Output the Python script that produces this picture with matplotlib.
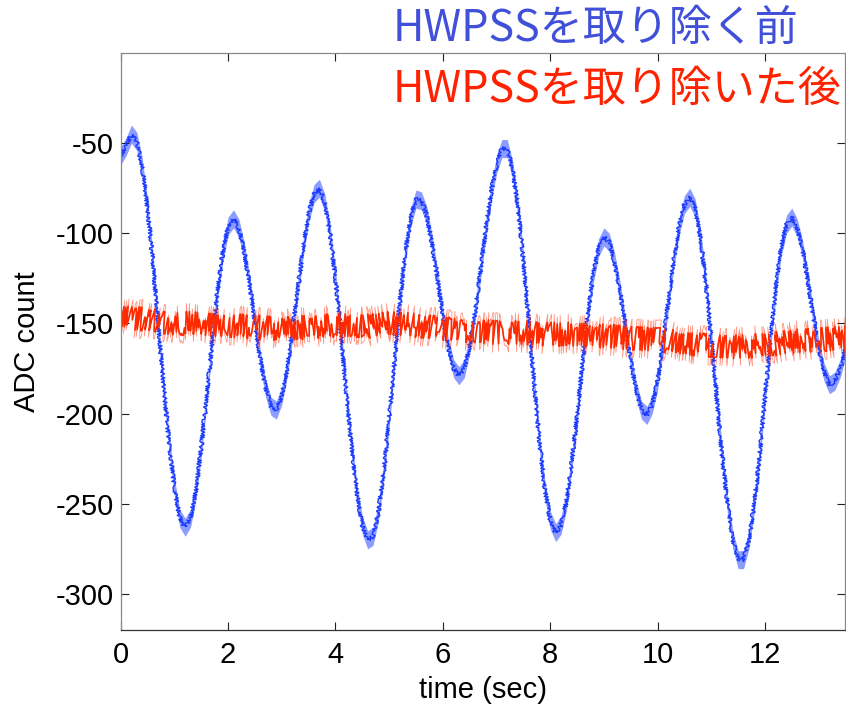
import numpy as np
import matplotlib
matplotlib.use("Agg")
import matplotlib.pyplot as plt

plt.rcParams['font.family'] = ['Liberation Sans', 'DejaVu Sans']
plt.rcParams['axes.unicode_minus'] = False

# ADC trace before HWPSS removal, sampled every 0.1 sec (0.0 ... 13.5)
t_before = np.arange(136) / 10.0
adc_before = [
    -57, -52, -45, -49, -63, -86, -116, -151, -185, -216,
    -241, -258, -263, -258, -243, -219, -191, -161, -133, -111,
    -96, -92, -97, -110, -128, -149, -170, -186, -196, -198,
    -190, -175, -154, -131, -108, -89, -78, -75, -83, -100,
    -125, -155, -188, -218, -244, -262, -270, -268, -255, -232,
    -203, -171, -138, -111, -91, -81, -82, -90, -106, -125,
    -146, -163, -175, -179, -175, -162, -144, -121, -98, -77,
    -62, -53, -53, -65, -86, -115, -149, -183, -216, -242,
    -259, -266, -262, -249, -227, -201, -173, -145, -123, -108,
    -102, -105, -116, -132, -151, -171, -187, -198, -201, -195,
    -182, -161, -138, -115, -96, -84, -80, -86, -103, -128,
    -158, -191, -223, -250, -270, -281, -281, -270, -250, -223,
    -191, -160, -131, -108, -95, -91, -97, -109, -127, -146,
    -164, -177, -184, -182, -175, -164,
]

# ADC trace after HWPSS removal, sampled every 0.5 sec
t_after = np.arange(28) / 2.0
adc_after = [
    -146, -148, -150, -150, -151, -152, -153, -152, -151, -152,
    -150, -151, -153, -154, -155, -155, -156, -156, -157, -158,
    -159, -161, -162, -163, -162, -160, -159, -158,
]

# half width of the detector noise (ADC counts)
noise_before = 5.0

xticks = [0, 2, 4, 6, 8, 10, 12]
yticks = [-300, -250, -200, -150, -100, -50]

c_before = '#1a3aff'
c_after = '#ff2a00'

fig = plt.figure(figsize=(8.46, 7.04), dpi=100)
ax = fig.add_axes([120.7 / 846, 74 / 704, 724.3 / 846, 577 / 704])

yb = np.array(adc_before, dtype=float)
ya = np.array(adc_after, dtype=float)

# before: noise band + jittery centre line
ax.fill_between(t_before, yb - noise_before, yb + noise_before,
                color=c_before, lw=0, alpha=0.5)
ln_b, = ax.plot(t_before, yb, color=c_before, lw=1.0)
ln_b.set_sketch_params(scale=2, length=0.5, randomness=8)

# after: pale fringe plus dense core
ln_a2, = ax.plot(t_after, ya, color=c_after, lw=0.6, alpha=0.5)
ln_a2.set_sketch_params(scale=20, length=0.5, randomness=8)
ln_a, = ax.plot(t_after, ya, color=c_after, lw=1.2)
ln_a.set_sketch_params(scale=12, length=0.5, randomness=8)

ax.set_xlim(0, 13.49)
ax.set_ylim(-320, 0)
ax.set_xticks(xticks)
ax.set_yticks(yticks)
ax.tick_params(direction='in', length=5.5, width=0.8, labelsize=21,
               top=True, right=True, pad=8, colors='#222222',
               labelcolor='black')
ax.tick_params(axis='y', pad=5)
for side in ['left', 'top', 'right']:
    ax.spines[side].set_color('#888888')
ax.spines['bottom'].set_color('#333333')
for sp in ax.spines.values():
    sp.set_linewidth(0.9)

ax.set_xlabel('time (sec)', fontsize=21)
ax.xaxis.set_label_coords(0.5, -0.104)
ax.set_ylabel('ADC count', fontsize=21)
ax.yaxis.set_label_coords(-0.13, 0.5)
ax.xaxis.label.set_va('center')
ax.yaxis.label.set_va('center')

jp = ['Noto Sans CJK JP', 'DejaVu Sans']
fig.text(393 / 846, 1 - 41 / 704, 'HWPSSを取り除く前', color='#4150d8',
         fontsize=31, family=jp, ha='left', va='baseline')
fig.text(393 / 846, 1 - 102 / 704, 'HWPSSを取り除いた後', color='#ff2200',
         fontsize=31, family=jp, ha='left', va='baseline')

fig.savefig('out.png', dpi=100)
